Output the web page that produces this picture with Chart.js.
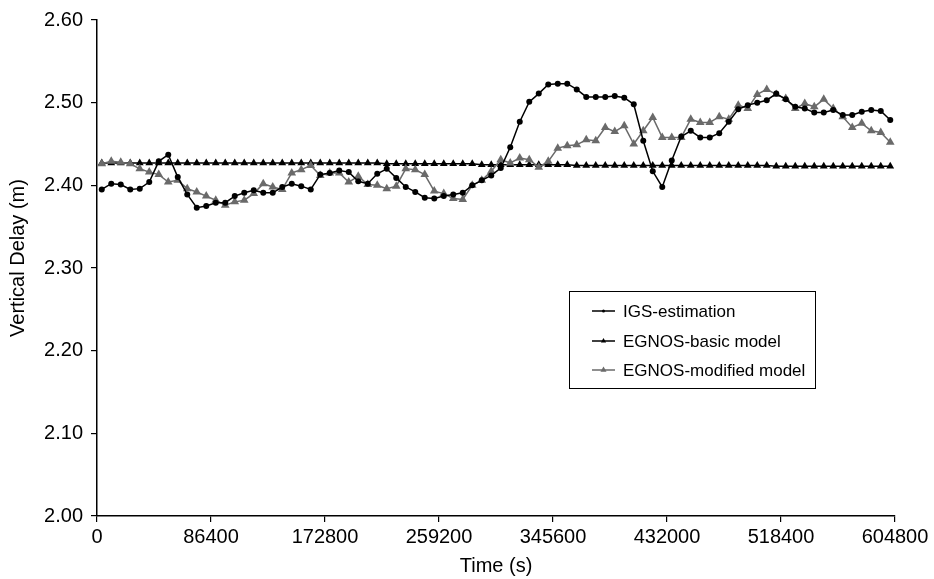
<!DOCTYPE html>
<html>
<head>
<meta charset="utf-8">
<script src="https://cdn.jsdelivr.net/npm/chart.js@4/dist/chart.umd.min.js"></script>
<style>
  html, body { margin: 0; padding: 0; background: #fff; }
  #wrap { width: 934px; height: 579px; }
</style>
</head>
<body>
<div id="wrap"><canvas id="chart" width="934" height="579"></canvas></div>
<script>
'use strict';

// sample grid: one point every 2 hours, first one at 1 h
const firstSample = 3600;
const sampleStep = 7200;

const xTicks = [0, 86400, 172800, 259200, 345600, 432000, 518400, 604800];
const yTicks = [2.00, 2.10, 2.20, 2.30, 2.40, 2.50, 2.60];

const seriesNames = ['IGS-estimation', 'EGNOS-basic model', 'EGNOS-modified model'];

const igsEstimation = [
  2.395, 2.402, 2.401, 2.395, 2.396, 2.404, 2.429, 2.437, 2.410, 2.389,
  2.373, 2.375, 2.379, 2.379, 2.387, 2.391, 2.394, 2.391, 2.391, 2.398,
  2.402, 2.399, 2.395, 2.413, 2.415, 2.418, 2.416, 2.405, 2.402, 2.414,
  2.420, 2.409, 2.398, 2.392, 2.385, 2.384, 2.387, 2.389, 2.391, 2.400,
  2.406, 2.412, 2.421, 2.446, 2.477, 2.501, 2.511, 2.522, 2.523, 2.523,
  2.516, 2.507, 2.507, 2.507, 2.508, 2.506, 2.498, 2.454, 2.417, 2.398,
  2.430, 2.459, 2.466, 2.458, 2.458, 2.463, 2.477, 2.492, 2.497, 2.500,
  2.503, 2.511, 2.504, 2.495, 2.493, 2.488, 2.488, 2.491, 2.485, 2.485,
  2.489, 2.491, 2.490, 2.479
];

const egnosBasic = [
  2.427, 2.427, 2.427, 2.427, 2.427, 2.427, 2.427, 2.427, 2.427, 2.427,
  2.427, 2.427, 2.427, 2.427, 2.427, 2.427, 2.427, 2.427, 2.427, 2.427,
  2.427, 2.427, 2.427, 2.427, 2.427, 2.427, 2.427, 2.427, 2.427, 2.427,
  2.426, 2.426, 2.426, 2.426, 2.426, 2.426, 2.426, 2.426, 2.426, 2.426,
  2.425, 2.425, 2.425, 2.425, 2.425, 2.425, 2.425, 2.425, 2.425, 2.425,
  2.424, 2.424, 2.424, 2.424, 2.424, 2.424, 2.424, 2.424, 2.424, 2.424,
  2.424, 2.424, 2.424, 2.424, 2.424, 2.424, 2.424, 2.424, 2.424, 2.424,
  2.424, 2.423, 2.423, 2.423, 2.423, 2.423, 2.423, 2.423, 2.423, 2.423,
  2.423, 2.423, 2.423, 2.423
];

const egnosModified = [
  2.426, 2.429, 2.428, 2.426, 2.420, 2.416, 2.413, 2.404, 2.406, 2.396,
  2.392, 2.387, 2.382, 2.376, 2.380, 2.382, 2.390, 2.402, 2.398, 2.395,
  2.415, 2.419, 2.424, 2.412, 2.415, 2.415, 2.404, 2.411, 2.401, 2.400,
  2.396, 2.399, 2.420, 2.419, 2.413, 2.393, 2.390, 2.384, 2.383, 2.400,
  2.406, 2.417, 2.431, 2.427, 2.433, 2.431, 2.422, 2.429, 2.445, 2.448,
  2.449, 2.455, 2.454, 2.470, 2.465, 2.472, 2.450, 2.466, 2.482, 2.458,
  2.458, 2.458, 2.480, 2.476, 2.476, 2.483, 2.480, 2.497, 2.493, 2.510,
  2.516, 2.510, 2.505, 2.493, 2.499, 2.495, 2.504, 2.493, 2.483, 2.470,
  2.475, 2.466, 2.464, 2.452
];

const FONT = "'Liberation Sans', Arial, Helvetica, sans-serif";

function toPoints(values) {
  return values.map((v, i) => ({ x: firstSample + i * sampleStep, y: v }));
}

// y title drawn by hand: the original sits a bit above the plot centre
const yTitle = {
  id: 'yTitle',
  afterDraw(chart) {
    const ctx = chart.ctx;
    ctx.save();
    ctx.translate(18, 258);
    ctx.rotate(-Math.PI / 2);
    ctx.font = '20px ' + FONT;
    ctx.fillStyle = '#000';
    ctx.textAlign = 'center';
    ctx.textBaseline = 'middle';
    ctx.fillText('Vertical Delay (m)', 0, 0);
    ctx.restore();
  }
};

// legend box drawn inside the plot like the original figure
const boxLegend = {
  id: 'boxLegend',
  afterDraw(chart) {
    const ctx = chart.ctx;
    const box = { x: 569, y: 291, w: 246, h: 97 };
    ctx.save();
    ctx.fillStyle = '#fff';
    ctx.fillRect(box.x, box.y, box.w, box.h);
    ctx.strokeStyle = '#000';
    ctx.lineWidth = 1;
    ctx.strokeRect(box.x + 0.5, box.y + 0.5, box.w, box.h);
    ctx.font = '17px ' + FONT;
    ctx.textBaseline = 'middle';
    const rows = [311, 341, 370];
    chart.data.datasets.forEach((ds, i) => {
      const y = rows[i];
      ctx.strokeStyle = ds.borderColor;
      ctx.fillStyle = ds.backgroundColor;
      ctx.lineWidth = 1.5;
      ctx.beginPath();
      ctx.moveTo(592, y);
      ctx.lineTo(615, y);
      ctx.stroke();
      Chart.helpers.drawPoint(ctx, {
        pointStyle: ds.pointStyle,
        radius: ds.pointRadius - 1.5,
        rotation: 0,
        borderWidth: 0
      }, 603.5, y);
      ctx.fillStyle = '#000';
      ctx.fillText(ds.label, 623, y + 1);
    });
    ctx.restore();
  }
};

const ctx = document.getElementById('chart').getContext('2d');
new Chart(ctx, {
  type: 'line',
  data: {
    datasets: [
      {
        label: seriesNames[0],
        data: toPoints(igsEstimation),
        borderColor: '#000',
        backgroundColor: '#000',
        borderWidth: 1.5,
        pointStyle: 'circle',
        pointRadius: 3,
        pointBorderWidth: 0,
        order: 1
      },
      {
        label: seriesNames[1],
        data: toPoints(egnosBasic),
        borderColor: '#000',
        backgroundColor: '#000',
        borderWidth: 1.5,
        pointStyle: 'triangle',
        pointRadius: 4.5,
        pointBorderWidth: 0,
        order: 3
      },
      {
        label: seriesNames[2],
        data: toPoints(egnosModified),
        borderColor: '#6a6a6a',
        backgroundColor: '#6a6a6a',
        borderWidth: 1.5,
        pointStyle: 'triangle',
        pointRadius: 5,
        pointBorderWidth: 0,
        order: 2
      }
    ]
  },
  options: {
    responsive: false,
    animation: false,
    events: [],
    layout: { padding: { left: 0, right: 39, top: 17, bottom: 0 } },
    plugins: {
      legend: { display: false },
      tooltip: { enabled: false }
    },
    scales: {
      x: {
        type: 'linear',
        min: xTicks[0],
        max: xTicks[xTicks.length - 1],
        afterBuildTicks(scale) {
          scale.ticks = xTicks.map(v => ({ value: v }));
        },
        afterFit(scale) { scale.height = 63; },
        border: { display: true, color: '#000', width: 1.5 },
        grid: { drawOnChartArea: false, drawTicks: true, tickLength: 6, color: '#000', lineWidth: 1.2 },
        ticks: {
          color: '#000',
          font: { family: FONT, size: 20 },
          maxRotation: 0,
          autoSkip: false,
          padding: 3,
          callback: v => String(v)
        },
        title: {
          display: true,
          text: 'Time (s)',
          color: '#000',
          font: { family: FONT, size: 20 },
          padding: { top: 2, bottom: 1 }
        }
      },
      y: {
        type: 'linear',
        min: yTicks[0],
        max: yTicks[yTicks.length - 1],
        afterBuildTicks(scale) {
          scale.ticks = yTicks.map(v => ({ value: v }));
        },
        afterFit(scale) { scale.width = 97; },
        border: { display: true, color: '#000', width: 1.5 },
        grid: { drawOnChartArea: false, drawTicks: true, tickLength: 6, color: '#000', lineWidth: 1.2 },
        ticks: {
          color: '#000',
          font: { family: FONT, size: 20 },
          padding: 8,
          callback: v => Number(v).toFixed(2)
        },
        title: { display: false }
      }
    }
  },
  plugins: [yTitle, boxLegend]
});
</script>
</body>
</html>
